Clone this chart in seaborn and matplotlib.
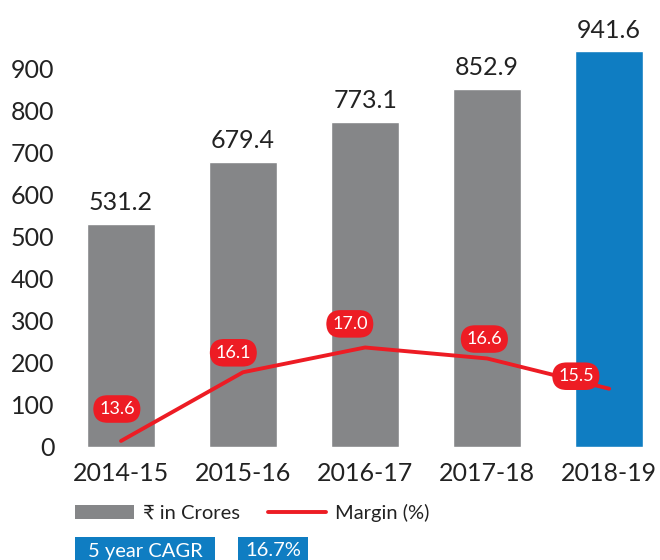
import matplotlib
matplotlib.use("Agg")
import matplotlib.pyplot as plt
import seaborn as sns
import pandas as pd
from matplotlib.patches import Patch, Rectangle
from matplotlib.lines import Line2D

# --- DATA ---
years = ["2014-15", "2015-16", "2016-17", "2017-18", "2018-19"]
revenue = [531.2, 679.4, 773.1, 852.9, 941.6]
margin = [13.6, 16.1, 17.0, 16.6, 15.5]
y_ticks = [0, 100, 200, 300, 400, 500, 600, 700, 800, 900]
cagr_label = "5 year CAGR"
cagr_value = "16.7%"

GREY = "#858688"
BLUE = "#0f7dc2"
RED = "#ed1c24"
TEXT = "#222222"

sns.set_theme(style="white")
plt.rcParams["font.family"] = ["Lato", "DejaVu Sans"]

df = pd.DataFrame({"year": years, "revenue": revenue, "margin": margin})
bar_colors = [GREY] * (len(years) - 1) + [BLUE]

W, H = 660, 560
fig = plt.figure(figsize=(W / 100, H / 100), dpi=100)
ax = fig.add_axes([60 / W, 113 / H, 598 / W, 447 / H])

sns.barplot(data=df, x="year", y="revenue", hue="year", palette=bar_colors,
            legend=False, width=0.56, saturation=1, ax=ax)
ax.set_xlim(-0.5, 4.4)
ax.set_ylim(0, 1064)
ax.set_yticks(y_ticks)
ax.set_xlabel("")
ax.set_ylabel("")
ax.tick_params(axis="both", length=0, labelsize=18, colors=TEXT)
ax.tick_params(axis="x", pad=11)
ax.tick_params(axis="y", pad=4)
sns.despine(ax=ax, left=True, bottom=True)

# value labels above bars
for i, v in enumerate(revenue):
    ax.annotate(f"{v:.1f}", (i, v), xytext=(0, 7), textcoords="offset points",
                ha="center", va="bottom", fontsize=18, color=TEXT,
                annotation_clip=False)

# margin line on secondary axis
ax2 = ax.twinx()
sns.lineplot(x=list(range(len(years))), y=margin, color=RED, linewidth=2.8, ax=ax2)
ax2.set_ylim(13.38, 29.64)
ax2.axis("off")

label_offsets = [(-3, 23), (-7, 14), (-11, 17), (-2, 14), (-24, 9)]
for i, (m, off) in enumerate(zip(margin, label_offsets)):
    ax2.annotate(f"{m:.1f}", (i, m), xytext=off, textcoords="offset points",
                 ha="center", va="center", fontsize=13, color="white",
                 bbox=dict(boxstyle="round,pad=0.32,rounding_size=0.8",
                           fc=RED, ec="none"))

# legend
handles = [Patch(facecolor=GREY, edgecolor="none"),
           Line2D([0], [0], color=RED, linewidth=2.8)]
fig.legend(handles, ["\u20b9 in Crores", "Margin (%)"], loc="center left",
           bbox_to_anchor=(57 / W, 47 / H), ncol=2, frameon=False,
           fontsize=14.5, handlelength=2.9, handleheight=0.75, columnspacing=1.4,
           handletextpad=0.45, labelcolor=TEXT)

# CAGR boxes (blue strips, cut by the bottom edge)
for (x0, x1), txt in zip([(75, 215), (238, 308)], [cagr_label, cagr_value]):
    fig.patches.append(Rectangle((x0 / W, 0), (x1 - x0) / W, 23 / H,
                                 transform=fig.transFigure, fc=BLUE, ec="none"))
    fig.text((x0 + x1) / 2 / W, 9 / H, txt, color="white", fontsize=14.5,
             ha="center", va="center")

fig.savefig("out.png", dpi=100)
